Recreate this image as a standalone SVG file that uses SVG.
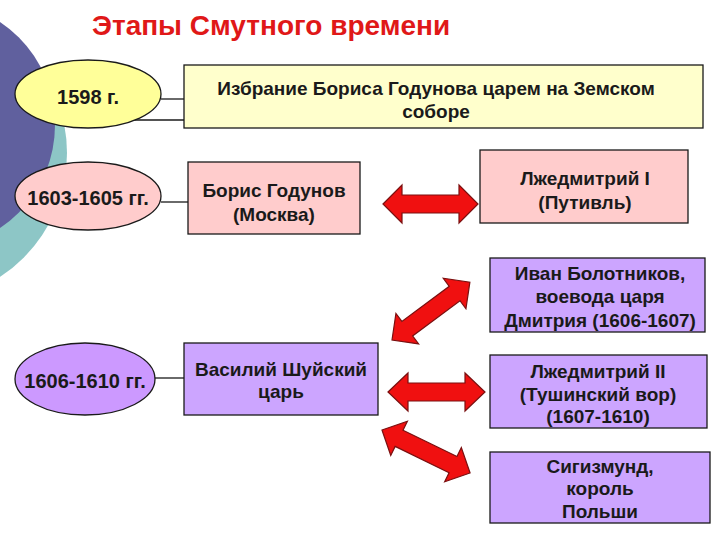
<svg xmlns="http://www.w3.org/2000/svg" width="720" height="540" viewBox="0 0 720 540">
<style>
.t{font-family:"Liberation Sans",Arial,sans-serif;font-weight:bold;font-size:19px;fill:#1a1a1a;text-anchor:middle}
.e{font-size:20px}
.title{font-family:"Liberation Sans",Arial,sans-serif;font-weight:bold;font-size:28px;fill:#E01818}
.box{stroke:#1a1a1a;stroke-width:1.3}
.line{stroke:#1a1a1a;stroke-width:1.3;fill:none}
.arr{fill:#F01010;stroke:#7a1010;stroke-width:1.2;stroke-linejoin:miter}
</style>
<rect width="720" height="540" fill="#ffffff"/>
<g id="background">
<circle cx="-81" cy="153" r="148" fill="#8DC6C6"/>
<circle cx="-69" cy="125" r="124" fill="#60609E"/>
</g>
<text class="title" x="92" y="35">Этапы Смутного времени</text>
<g id="connectors">
<line class="line" x1="161" y1="99" x2="184" y2="99"/>
<line class="line" x1="133" y1="120" x2="184" y2="120"/>
<line class="line" x1="161" y1="202" x2="188" y2="202"/>
<line class="line" x1="155" y1="378" x2="184" y2="378"/>
<polygon class="arr" points="383,204 402,185 402,195 459,195 459,185 478,204 459,223 459,213 402,213 402,223"/>
<polygon class="arr" transform="translate(392,340) rotate(-36.6)" points="0,0 19,-19 19,-9 78,-9 78,-19 97,0 78,19 78,9 19,9 19,19"/>
<polygon class="arr" points="388,392 408,373 408,383 465,383 465,373 485,392 465,411 465,401 408,401 408,411"/>
<polygon class="arr" transform="translate(382,430) rotate(26)" points="0,0 19,-19 19,-9 79,-9 79,-19 98,0 79,19 79,9 19,9 19,19"/>
</g>
<g id="e1598">
<ellipse class="box" cx="88" cy="94" rx="73" ry="34" fill="#FFFF99"/>
<text class="t e" x="88" y="104">1598 г.</text>
</g>
<g id="e1603">
<ellipse class="box" cx="88" cy="196" rx="73" ry="34" fill="#FFCCCC"/>
<text class="t e" x="88" y="205">1603-1605 гг.</text>
</g>
<g id="e1606">
<ellipse class="box" cx="85" cy="379" rx="70" ry="36" fill="#CC99FF"/>
<text class="t e" x="85" y="388">1606-1610 гг.</text>
</g>
<g id="izbranie">
<rect class="box" x="184" y="65" width="519" height="63" fill="#FFFFCC"/>
<text class="t" x="436" y="95">Избрание Бориса Годунова царем на Земском</text>
<text class="t" x="436" y="118">соборе</text>
</g>
<g id="godunov">
<rect class="box" x="188" y="162" width="172" height="72" fill="#FFCCCC"/>
<text class="t" x="274" y="197">Борис Годунов</text>
<text class="t" x="274" y="221">(Москва)</text>
</g>
<g id="lzhedmitry1">
<rect class="box" x="480" y="150" width="208" height="73" fill="#FFCCCC"/>
<text class="t" x="585" y="185">Лжедмитрий I</text>
<text class="t" x="585" y="209">(Путивль)</text>
</g>
<g id="bolotnikov">
<rect class="box" x="490" y="258" width="215" height="74" fill="#CCA5FF"/>
<text class="t" x="600" y="280">Иван Болотников,</text>
<text class="t" x="600" y="303">воевода царя</text>
<text class="t" x="600" y="327">Дмитрия (1606-1607)</text>
</g>
<g id="shuisky">
<rect class="box" x="184" y="343" width="194" height="72" fill="#CCA5FF"/>
<text class="t" x="281" y="376">Василий Шуйский</text>
<text class="t" x="281" y="398">царь</text>
</g>
<g id="lzhedmitry2">
<rect class="box" x="490" y="355" width="217" height="73" fill="#CCA5FF"/>
<text class="t" x="598" y="378">Лжедмитрий II</text>
<text class="t" x="598" y="401">(Тушинский вор)</text>
<text class="t" x="598" y="423">(1607-1610)</text>
</g>
<g id="sigismund">
<rect class="box" x="490" y="452" width="220" height="71" fill="#CCA5FF"/>
<text class="t" x="600" y="473">Сигизмунд,</text>
<text class="t" x="600" y="495">король</text>
<text class="t" x="600" y="518">Польши</text>
</g>
</svg>
